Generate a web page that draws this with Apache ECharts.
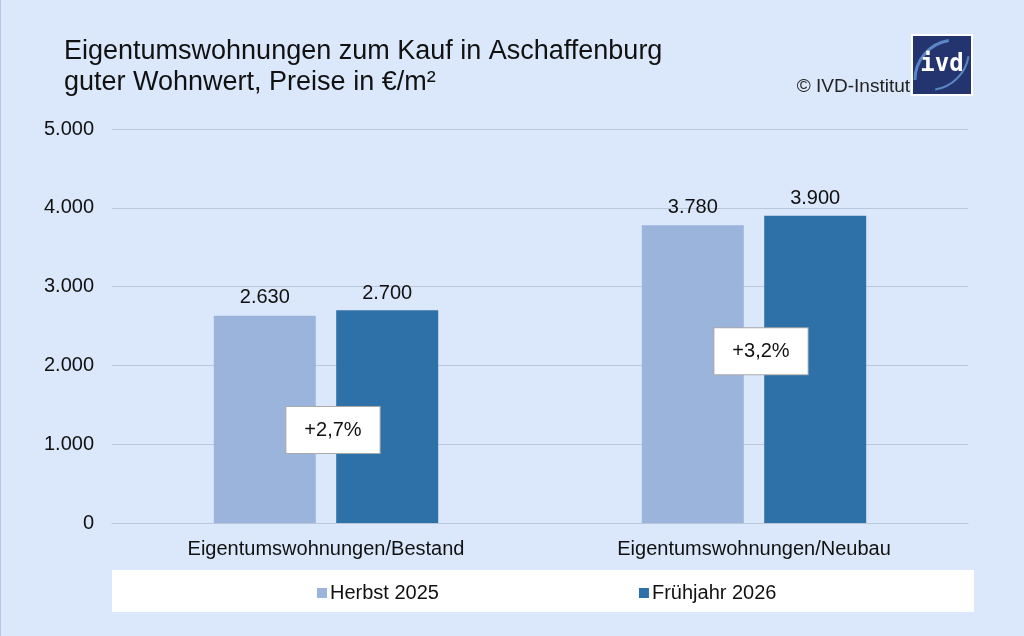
<!DOCTYPE html>
<html><head><meta charset="utf-8">
<script src="https://cdn.jsdelivr.net/npm/echarts@6/dist/echarts.min.js"></script>
<style>html,body{margin:0;padding:0;background:#dbe8fb;}#c{width:1024px;height:636px;}</style>
</head><body><div id="c"></div>
<script>
const categories = ['Eigentumswohnungen/Bestand', 'Eigentumswohnungen/Neubau'];
const seriesNames = ['Herbst 2025', 'Frühjahr 2026'];
const herbst2025 = [2630, 3780];
const fruehjahr2026 = [2700, 3900];
const changeLabels = ['+2,7%', '+3,2%'];
const changeLabelY = [1180, 2180];
const yTicks = [0, 1000, 2000, 3000, 4000, 5000];

const fmt = v => String(v).replace(/\B(?=(\d{3})+(?!\d))/g, '.');
const font = 'Liberation Sans, Arial, sans-serif';

const chart = echarts.init(document.getElementById('c'));
chart.setOption({
  backgroundColor: '#dbe8fb',
  animation: false,
  textStyle: {fontFamily: font},
  title: {
    text: 'Eigentumswohnungen zum Kauf in Aschaffenburg\nguter Wohnwert, Preise in €/m²',
    left: 59, top: 31,
    textStyle: {fontFamily: font, fontSize: 27, fontWeight: 'normal', color: '#111', lineHeight: 31}
  },
  graphic: [
    {type: 'rect', left: 0, top: 0, shape: {width: 1, height: 636}, style: {fill: '#b4c8e6'}},
    {type: 'rect', left: 112, top: 570, shape: {width: 862, height: 42}, style: {fill: '#ffffff'}, z: -1},
    {type: 'text', right: 114, top: 77, style: {text: '© IVD-Institut', font: '19px ' + font, fill: '#222'}},
    {type: 'group', left: 911, top: 34, children: [
      {type: 'rect', shape: {x: 0, y: 0, width: 62, height: 62}, style: {fill: '#ffffff'}},
      {type: 'rect', shape: {x: 2, y: 2, width: 58, height: 58}, style: {fill: '#24346f'}},
      {type: 'arc', shape: {cx: 44, cy: 46, r: 40, startAngle: Math.PI * 1.0, endAngle: Math.PI * 1.45}, style: {stroke: '#5b86c4', lineWidth: 3, fill: null}},
      {type: 'arc', shape: {cx: 18, cy: 16, r: 40, startAngle: Math.PI * 0.05, endAngle: Math.PI * 0.45}, style: {stroke: '#5b86c4', lineWidth: 2, fill: null}},
      {type: 'text', x: 31, y: 31, style: {text: 'ivd', font: 'bold 24px DejaVu Sans Mono, monospace', fill: '#ffffff', align: 'center', verticalAlign: 'middle'}}
    ]}
  ],
  legend: {
    data: seriesNames,
    left: 312, top: 578,
    itemWidth: 10, itemHeight: 10, itemGap: 200,
    icon: 'rect',
    textStyle: {fontFamily: font, fontSize: 20, color: '#111', padding: [0, 0, 0, -2]}
  },
  grid: {left: 112, right: 56, top: 129, bottom: 113},
  xAxis: {
    type: 'category', data: categories,
    axisLine: {show: true, lineStyle: {color: '#b9c7d9'}},
    axisTick: {show: false},
    axisLabel: {fontFamily: font, fontSize: 20, color: '#111', margin: 16}
  },
  yAxis: {
    type: 'value', min: 0, max: 5000, interval: 1000,
    axisLine: {show: false}, axisTick: {show: false},
    splitLine: {lineStyle: {color: '#b9c7d9', width: 1}},
    axisLabel: {fontFamily: font, fontSize: 20, color: '#111', margin: 18, formatter: v => yTicks.includes(v) ? fmt(v) : ''}
  },
  series: [
    {
      name: seriesNames[0], type: 'bar', data: herbst2025,
      barWidth: 102, barGap: '20%',
      itemStyle: {color: '#9bb4dc'},
      label: {show: true, position: 'top', distance: 8, fontFamily: font, fontSize: 20, color: '#111', formatter: p => fmt(p.value)}
    },
    {
      name: seriesNames[1], type: 'bar', data: fruehjahr2026,
      barWidth: 102,
      itemStyle: {color: '#2e71a9'},
      label: {show: true, position: 'top', distance: 7, fontFamily: font, fontSize: 20, color: '#111', formatter: p => fmt(p.value)}
    },
    {
      type: 'scatter', data: changeLabelY, symbolSize: 0, silent: true, z: 10,
      itemStyle: {opacity: 1},
      label: {
        show: true, position: 'inside', offset: [7, 0], opacity: 1,
        formatter: p => changeLabels[p.dataIndex],
        backgroundColor: '#ffffff', borderColor: '#a9a9a9', borderWidth: 1,
        padding: [13, 18, 13, 18],
        fontFamily: font, fontSize: 20, color: '#111'
      }
    }
  ]
});
</script></body></html>
